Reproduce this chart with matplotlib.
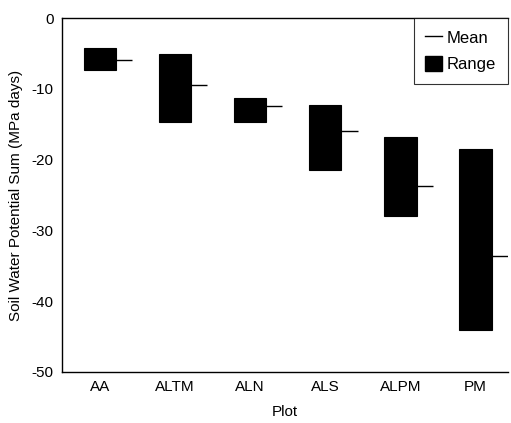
import matplotlib
matplotlib.use("Agg")
import matplotlib.pyplot as plt
import numpy as np
from matplotlib.lines import Line2D
from matplotlib.patches import Patch

plt.rcParams["font.family"] = ["Liberation Sans", "DejaVu Sans"]
plt.rcParams["axes.unicode_minus"] = False

# Data
plots = ["AA", "ALTM", "ALN", "ALS", "ALPM", "PM"]
range_top = [-4.2, -5.1, -11.3, -12.3, -16.8, -18.5]
range_bottom = [-7.3, -14.7, -14.7, -21.5, -28.0, -44.1]
means = [-5.9, -9.5, -12.4, -16.0, -23.7, -33.6]

x = np.arange(len(plots))
width = 0.43

fig = plt.figure(figsize=(5.11, 4.23), dpi=100)
ax = fig.add_axes([0.121, 0.1206, 0.873, 0.8368])

heights = np.array(range_top) - np.array(range_bottom)
ax.bar(x, heights, bottom=range_bottom, width=width, color="black", edgecolor="black", lw=0.8)
ax.hlines(means, x, x + width, color="black", lw=1)

ax.set_xlim(-0.505, 5.43)
ax.set_ylim(-50, 0)
ax.set_yticks([0, -10, -20, -30, -40, -50])
ax.set_xticks(x)
ax.set_xticklabels(plots)
ax.tick_params(length=0, labelsize=11, pad=6)
ax.spines["right"].set_visible(False)
for s in ["left", "bottom", "top"]:
    ax.spines[s].set_linewidth(1)

ax.set_xlabel("Plot", fontsize=11, labelpad=8)
ax.set_ylabel("Soil Water Potential Sum (MPa days)", fontsize=11, labelpad=6)

handles = [Line2D([0], [0], color="black", lw=1),
           Patch(facecolor="black", edgecolor="black")]
leg = ax.legend(handles, ["Mean", "Range"], loc="upper right", fontsize=12,
                frameon=True, fancybox=False, edgecolor="black",
                handlelength=1.0, handleheight=1.0, handletextpad=0.3,
                labelspacing=0.6, borderpad=0.7, borderaxespad=0,
                bbox_to_anchor=(1.0, 1.0))
leg.get_frame().set_linewidth(0.8)

fig.savefig("out.png", dpi=100)
